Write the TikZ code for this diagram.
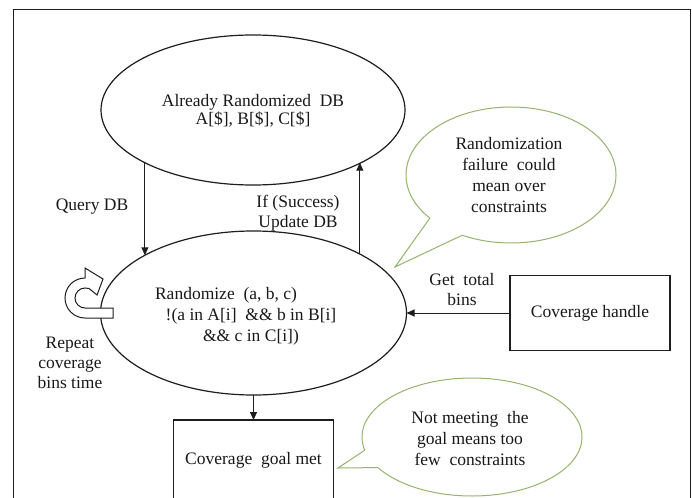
\documentclass[tikz,border=0pt]{standalone}
\usepackage{fontspec}
\setmainfont{Liberation Serif}
\usetikzlibrary{arrows.meta,calc,shapes.geometric}
\definecolor{bub}{RGB}{150,180,110}
\definecolor{ln}{RGB}{30,30,30}
\begin{document}
\begin{tikzpicture}[x=1pt,y=-1pt,
  txt/.style={font=\fontsize{17.5}{21}\selectfont, align=center, inner sep=0pt, text=black!90},
  ell/.style={draw=ln, line width=1.2pt, ellipse, inner sep=0pt, outer sep=0pt},
  box/.style={draw=ln, line width=1.2pt, rectangle, inner sep=0pt, outer sep=0pt, font=\fontsize{17.5}{21}\selectfont, text=black!90},
  bubble/.style={draw=bub, line width=1pt, ellipse, fill=white, inner sep=0pt, outer sep=0pt},
  arr/.style={draw=ln, line width=1pt, -{Triangle[length=8pt,width=7pt]}},
]
\useasboundingbox (0,0) rectangle (692,497);
\clip (0,0) rectangle (692,497);
\fill[white] (0,0) rectangle (692,497);
\draw[ln, line width=1pt] (13,10) rectangle (690,520);

% main ellipses
\node[ell, minimum width=304, minimum height=150] (db) at (253,110) {};
\node[txt] (dbt) at (253,111) {Already Randomized~ DB\\[-3pt] A[\$], B[\$], C[\$]};

\node[ell, minimum width=306, minimum height=164] (rnd) at (253.5,313) {};
\node[txt] (rndt) at (251,316) {Randomize~ (a, b, c)\hspace*{50pt}\\ !(a in A[i]~ \&\& b in B[i]\\ \&\& c in C[i])};

% boxes
\node[box, minimum width=160, minimum height=75] (handle) at (590,313) {Coverage handle};
\node[box, minimum width=160, minimum height=80] (goal) at (253.5,460) {Coverage~ goal met};

% arrows
\draw[arr] (db.206) -- (db.206 |- rnd.152);
\draw[arr] (rnd.29) -- (rnd.29 |- db.-26.5);
\draw[arr] (rnd.south) -- (goal.north);
\draw[arr] (handle.west) -- (rnd.east);

% labels
\node[txt] (qdb) at (92,207) {Query DB};
\node[txt] (upd) at (298,213) {If (Success)\\[-1pt] Update DB};
\node[txt] (gtb) at (462,290) {Get~ total\\[-1pt] bins};
\node[txt] (rep) at (70,363) {Repeat\\[-1pt] coverage\\[-1pt] bins time};

% loop arrow
\draw[ln, line width=1pt, fill=white, line join=miter]
  (113,308) -- (85,308) arc[start angle=90, end angle=270, radius=10]
  -- (89,288.5) -- (97,295) -- (103,279) -- (85,268) -- (85,278)
  arc[start angle=270, end angle=90, radius=20] -- (113,318) -- cycle;

% speech bubble 1
\node[bubble, minimum width=210, minimum height=136] (b1) at (511,175) {};
\coordinate (t1) at (395,267);
\fill[white] ($(b1.208)!4pt!(b1.center)$) -- (b1.208) -- (t1) -- (b1.231) -- ($(b1.231)!4pt!(b1.center)$) -- cycle;
\draw[bub, line width=1pt, line join=miter] (b1.208) -- (t1) -- (b1.231);
\node[txt] (b1t) at (509,175) {Randomization\\ failure~ could\\ mean over\\ constraints};

% speech bubble 2
\node[bubble, minimum width=220, minimum height=118] (b2) at (472,437) {};
\coordinate (t2) at (338,468);
\fill[white] ($(b2.187)!4pt!(b2.center)$) -- (b2.187) -- (t2) -- (b2.198) -- ($(b2.198)!4pt!(b2.center)$) -- cycle;
\draw[bub, line width=1pt, line join=miter] (b2.187) -- (t2) -- (b2.198);
\node[txt] (b2t) at (470,439) {Not meeting~ the\\ goal means too\\ few~ constraints};
\end{tikzpicture}
\end{document}
